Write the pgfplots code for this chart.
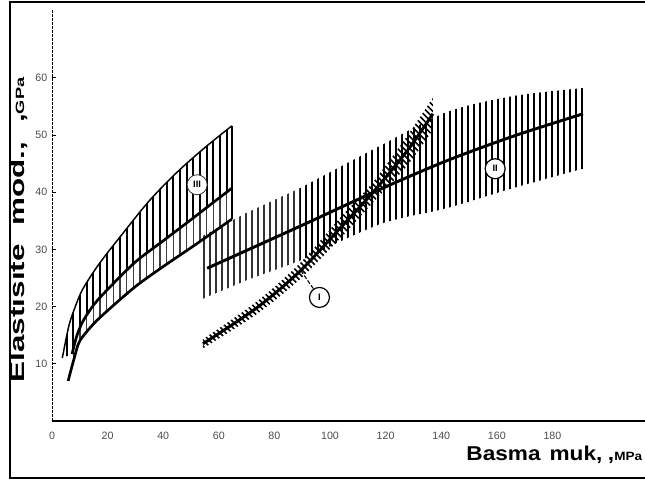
\documentclass[border=0pt]{standalone}
\usepackage{fontspec}
\setmainfont{Liberation Sans}
\usepackage{pgfplots}
\pgfplotsset{compat=1.18}
\usepgfplotslibrary{fillbetween}
\usetikzlibrary{patterns.meta}

\begin{document}
\begin{tikzpicture}
\begin{axis}[
  at={(39pt,45pt)}, anchor=south west,
  scale only axis, width=444.75pt, height=308.25pt,
  xmin=0, xmax=213.3, ymin=0, ymax=71.85,
  axis x line=bottom, axis y line=left,
  x axis line style={-, line width=1.2pt},
  y axis line style={-, line width=0.6pt, dash pattern=on 2pt off 1pt},
  xtick={0,20,...,180}, ytick={10,20,...,60},
  xtick style={draw=none},
  ytick style={black, line width=0.6pt},
  tick align=inside, major tick length=3pt,
  x tick label style={font=\footnotesize, text=black!70, yshift=-5pt},
  y tick label style={font=\footnotesize, text=black!70},
  /pgf/number format/assume math mode=true,
  xlabel={\fontsize{15}{18}\selectfont\scalebox{1.13}[1]{\bfseries Basma\hspace{0.4em}muk,\hspace{0.25em},{\small MPa}}},
  xlabel style={at={(axis description cs:0.691,-0.083)}, anchor=west},
  ylabel={\fontsize{15.5}{18}\selectfont\scalebox{1.52}[1]{\bfseries Elastisite\hspace{0.6em}mod.,\hspace{0.6em},{\small GPa}}},
  ylabel style={at={(axis description cs:-0.057,0.465)}, anchor=center},
  clip=false,
]
% left band
\addplot[name path=LU, line width=1.1pt, smooth] coordinates {(3.7,11.0)(6,16.5)(8,19.5)(11,23)(17,27.5)(25,32.5)(35,38.5)(45,43.5)(55,47.8)(64.7,51.6)};
\addplot[name path=LM, draw=none, smooth, forget plot] coordinates {(7.2,11.7)(9,15)(11.2,17.5)(15,20.3)(20,23)(30,27.8)(40,31.5)(50,35.2)(58,38.2)(64.7,40.7)};
\addplot[name path=LL, draw=none, smooth, forget plot] coordinates {(5.8,7.0)(8,11)(10,14)(15,17)(20,19.3)(30,23.5)(40,27)(50,30.3)(58,33)(64.7,35.3)};
\addplot[pattern={Lines[angle=90,distance=5pt,line width=1.6pt]}, pattern color=black, draw=none] fill between[of=LU and LM];
\addplot[pattern={Lines[angle=90,distance=5pt,line width=0.8pt]}, pattern color=black!75, draw=none] fill between[of=LM and LL];
\addplot[line width=2pt, smooth] coordinates {(7.2,11.7)(9,15)(11.2,17.5)(15,20.3)(20,23)(30,27.8)(40,31.5)(50,35.2)(58,38.2)(64.7,40.7)};
\addplot[line width=2pt, smooth] coordinates {(5.8,7.0)(8,11)(10,14)(15,17)(20,19.3)(30,23.5)(40,27)(50,30.3)(58,33)(64.7,35.3)};
\draw[line width=1pt] (axis cs:64.7,51.6) -- (axis cs:64.7,35.3);
% band II, left (lighter) part
\addplot[name path=IItL, draw=none, forget plot] coordinates {(54,32.3)(70,36.4)(89.2,40.7)};
\addplot[name path=IIbL, draw=none, forget plot] coordinates {(54,21.3)(70,24.6)(89.2,28.0)};
\addplot[pattern={Lines[angle=90,distance=4.5pt,line width=0.9pt]}, pattern color=black!80, draw=none] fill between[of=IItL and IIbL];
% band II, right part
\addplot[name path=IIt, draw=none, smooth, forget plot] coordinates {(89.2,40.7)(118,48.1)(142,54.0)(165.8,56.8)(191,58.2)};
\addplot[name path=IIb, draw=none, smooth, forget plot] coordinates {(89.2,28.0)(118,34.4)(142,37.2)(165.8,40.7)(191,44.1)};
\addplot[pattern={Lines[angle=90,distance=4.5pt,line width=1.8pt]}, pattern color=black, draw=none] fill between[of=IIt and IIb];
% line I band
\addplot[name path=It, draw=none, smooth, forget plot] coordinates {(54.3,14.3)(73.7,20.9)(89.2,27.6)(103.6,35.5)(115.5,41.8)(127.7,49.8)(137,56.5)};
\addplot[name path=Ib, draw=none, smooth, forget plot] coordinates {(54.3,12.7)(73.7,18.7)(89.2,24.8)(103.6,31.9)(115.5,38.2)(127.7,44.6)(137,50.9)};
\addplot[pattern={Lines[angle=-45,distance=3.2pt,line width=1.2pt]}, pattern color=black, draw=none] fill between[of=It and Ib];
% center lines
\addplot[line width=2.2pt, smooth] coordinates {(55.8,26.7)(89,34)(118,40.5)(142,45.5)(166,49.8)(191,53.7)};
\addplot[line width=2.2pt, smooth] coordinates {(54.3,13.5)(73.7,19.8)(89.2,26.2)(103.6,33.7)(115.5,40.0)(127.7,47.2)(137,53.7)};
% labels
\node[draw, circle, fill=white, line width=0.9pt, minimum size=15pt, inner sep=0pt, font=\scriptsize\bfseries] at (axis cs:159.4,44.1) {II};
\node[draw, circle, fill=white, line width=0.9pt, minimum size=15pt, inner sep=0pt, font=\scriptsize\bfseries] (lI) at (axis cs:96.2,21.6) {I};
\draw[line width=0.8pt, dash pattern=on 3pt off 1.5pt] (axis cs:89.5,26.3) -- (lI);
\node[draw=black!80, circle, fill=white, line width=0.6pt, minimum size=15pt, inner sep=0pt, font=\scriptsize\bfseries] at (axis cs:52.2,41.3) {III};
\end{axis}
\draw[line width=1.4pt] (490pt,359pt) -- (7.5pt,359pt) -- (7.5pt,2.5pt) -- (490pt,2.5pt);
\pgfresetboundingbox
\path[use as bounding box] (0,0) rectangle (483.75pt,360.75pt);
\end{tikzpicture}
\end{document}
